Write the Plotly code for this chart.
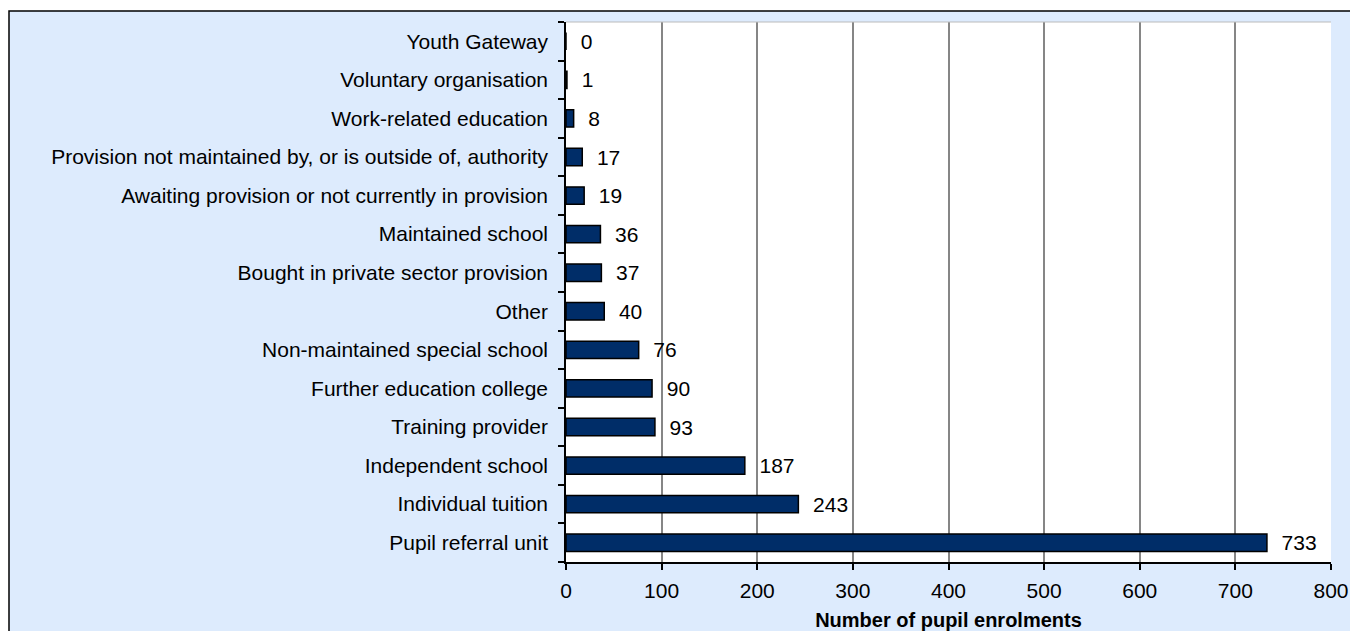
import plotly.graph_objects as go

categories = [
    "Pupil referral unit",
    "Individual tuition",
    "Independent school",
    "Training provider",
    "Further education college",
    "Non-maintained special school",
    "Other",
    "Bought in private sector provision",
    "Maintained school",
    "Awaiting provision or not currently in provision",
    "Provision not maintained by, or is outside of, authority",
    "Work-related education",
    "Voluntary organisation",
    "Youth Gateway",
]
values = [733, 243, 187, 93, 90, 76, 40, 37, 36, 19, 17, 8, 1, 0]
x_ticks = [0, 100, 200, 300, 400, 500, 600, 700, 800]
x_title = "Number of pupil enrolments"

# page body has an 8px margin; figure coordinates are page - 8
OFF = 8
W, H = 1350, 623
L, R, T, B = 566 - OFF, W - (1331 - OFF), 22 - OFF, H - (562 - OFF)
pw = W - L - R
ph = H - T - B

def px_x(p):
    return (p - OFF - L) / pw

def px_y(p):
    return 1 - (p - OFF - T) / ph

font_family = "Liberation Sans, Arial, sans-serif"
FS = 21

fig = go.Figure()
fig.add_trace(go.Bar(
    y=categories,
    x=values,
    orientation="h",
    width=0.45,
    marker=dict(color="#002D68", line=dict(color="#000000", width=1.5)),
    text=["  " + str(v) for v in values],
    textposition="outside",
    constraintext="none",
    textfont=dict(family=font_family, size=FS, color="#000000"),
    cliponaxis=False,
))

fig.update_layout(
    width=W, height=H,
    margin=dict(l=L, r=R, t=T, b=B, pad=0, autoexpand=False),
    paper_bgcolor="#FFFFFF",
    plot_bgcolor="#FFFFFF",
    showlegend=False,
    font=dict(family=font_family, size=FS, color="#000000"),
    xaxis=dict(
        automargin=False,
        range=[0, 800],
        tickvals=x_ticks,
        ticktext=[str(t) for t in x_ticks],
        showgrid=True, gridcolor="#868686", gridwidth=1.5,
        showline=True, linecolor="#000000", linewidth=1.5,
        ticks="outside", ticklen=6, tickcolor="#000000", tickwidth=1.5,
        ticklabelstandoff=3,
        zeroline=False,
        tickfont=dict(size=FS),
        title=dict(text="<b>" + x_title + "</b>", font=dict(size=20), standoff=14),
        fixedrange=True,
    ),
    yaxis=dict(
        automargin=False,
        type="category",
        categoryorder="array", categoryarray=categories,
        showgrid=False,
        showline=True, linecolor="#000000", linewidth=1.5,
        ticks="outside", ticklen=6, tickcolor="#000000", tickwidth=1.5,
        tickson="boundaries",
        tickfont=dict(size=FS),
        ticklabelstandoff=12,
        range=[-0.5, len(categories) - 0.5],
        fixedrange=True,
    ),
    shapes=[
        dict(type="rect", xref="paper", yref="paper",
             x0=px_x(9), x1=px_x(1375), y0=px_y(700), y1=px_y(11),
             fillcolor="#DDEBFD", line=dict(color="#000000", width=1.5),
             layer="below"),
        dict(type="rect", xref="paper", yref="paper",
             x0=0, x1=1, y0=0, y1=1,
             fillcolor="#FFFFFF", line=dict(width=0), layer="below"),
        dict(type="line", xref="paper", yref="paper",
             x0=0, x1=1, y0=1, y1=1,
             line=dict(color="#BBBBBB", width=1)),
    ],
)

fig.write_html("out.html")
